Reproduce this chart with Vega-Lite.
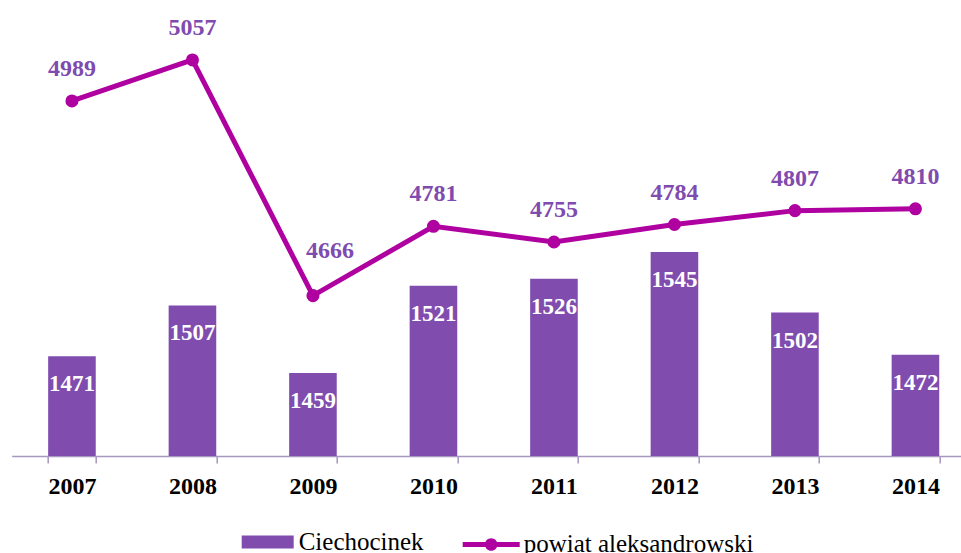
{
  "$schema": "https://vega.github.io/schema/vega-lite/v6.json",
  "width": 964,
  "height": 422,
  "autosize": {"type": "none"},
  "padding": {"left": 11.7, "top": 34, "right": 0, "bottom": 97},
  "background": "white",
  "config": {
    "font": "Liberation Serif",
    "view": {"stroke": null},
    "legend": {"labelFont": "Liberation Serif", "labelFontSize": 25, "labelColor": "black"}
  },
  "data": {"values": [
    {"year": "2007", "cie": 1471, "pow": 4989},
    {"year": "2008", "cie": 1507, "pow": 5057},
    {"year": "2009", "cie": 1459, "pow": 4666},
    {"year": "2010", "cie": 1521, "pow": 4781},
    {"year": "2011", "cie": 1526, "pow": 4755},
    {"year": "2012", "cie": 1545, "pow": 4784},
    {"year": "2013", "cie": 1502, "pow": 4807},
    {"year": "2014", "cie": 1472, "pow": 4810}
  ]},
  "encoding": {
    "x": {
      "field": "year", "type": "ordinal",
      "scale": {"paddingInner": 0.605, "paddingOuter": 0.3025},
      "axis": {
        "title": null, "labelAngle": 0,
        "labelFont": "Liberation Serif", "labelFontWeight": "bold", "labelFontSize": 24, "labelColor": "black",
        "domainColor": "#A797C2", "domainWidth": 1.5, "tickColor": "#A797C2", "tickWidth": 1.5, "tickSize": 7,
        "tickBand": "extent", "labelPadding": 12
      }
    }
  },
  "layer": [
    {
      "mark": {"type": "bar"},
      "encoding": {
        "y": {"field": "cie", "type": "quantitative", "scale": {"domain": [1400, 1700], "zero": false}, "axis": null},
        "y2": {"datum": 1400},
        "fill": {
          "datum": "Ciechocinek",
          "scale": {"range": ["#804DAF"]},
          "legend": {
            "orient": "none", "legendX": 230, "legendY": 482, "title": null,
            "symbolType": "M-1,-0.25H1V0.25H-1Z", "symbolSize": 2704, "symbolStrokeWidth": 0,
            "labelFont": "Liberation Serif", "labelFontSize": 25, "labelColor": "black", "labelOffset": 5, "labelLimit": 400
          }
        }
      }
    },
    {
      "mark": {"type": "text", "baseline": "alphabetic", "dy": 35, "font": "Liberation Serif", "fontWeight": "bold", "fontSize": 23, "color": "white"},
      "encoding": {
        "y": {"field": "cie", "type": "quantitative", "scale": {"domain": [1400, 1700], "zero": false}, "axis": null},
        "text": {"field": "cie", "type": "quantitative"}
      }
    },
    {
      "mark": {"type": "line", "strokeWidth": 5},
      "encoding": {
        "y": {"field": "pow", "type": "quantitative", "scale": {"domain": [4400, 5100], "zero": false}, "axis": null},
        "stroke": {
          "datum": "powiat aleksandrowski",
          "scale": {"range": ["#AF00A0"]},
          "legend": {
            "orient": "none", "legendX": 451, "legendY": 482, "title": null,
            "symbolType": "M-1,-0.09H1V0.09H-1Z M0.22,0A0.22,0.22 0 1 1 -0.22,0A0.22,0.22 0 1 1 0.22,0Z",
            "symbolSize": 3249, "symbolStrokeWidth": 0, "symbolFillColor": "#AF00A0",
            "labelFont": "Liberation Serif", "labelFontSize": 25, "labelColor": "black", "labelOffset": 4, "labelLimit": 400,
            "encode": {
              "symbols": {"update": {"fill": {"value": "#AF00A0"}, "strokeWidth": {"value": 0}}}
            }
          }
        }
      }
    },
    {
      "mark": {"type": "circle", "size": 170, "color": "#AF00A0", "opacity": 1},
      "encoding": {
        "y": {"field": "pow", "type": "quantitative", "scale": {"domain": [4400, 5100], "zero": false}, "axis": null}
      }
    },
    {
      "transform": [{"filter": "datum.year != '2009'"}],
      "mark": {"type": "text", "baseline": "alphabetic", "dy": -25, "font": "Liberation Serif", "fontWeight": "bold", "fontSize": 24, "color": "#7F4BAF"},
      "encoding": {
        "y": {"field": "pow", "type": "quantitative", "scale": {"domain": [4400, 5100], "zero": false}, "axis": null},
        "text": {"field": "pow", "type": "quantitative"}
      }
    },
    {
      "transform": [{"filter": "datum.year == '2009'"}],
      "mark": {"type": "text", "baseline": "alphabetic", "dx": 17, "dy": -38, "font": "Liberation Serif", "fontWeight": "bold", "fontSize": 24, "color": "#7F4BAF"},
      "encoding": {
        "y": {"field": "pow", "type": "quantitative", "scale": {"domain": [4400, 5100], "zero": false}, "axis": null},
        "text": {"field": "pow", "type": "quantitative"}
      }
    }
  ],
  "resolve": {"scale": {"y": "independent", "fill": "independent", "stroke": "independent"}, "legend": {"fill": "independent", "stroke": "independent"}}
}
